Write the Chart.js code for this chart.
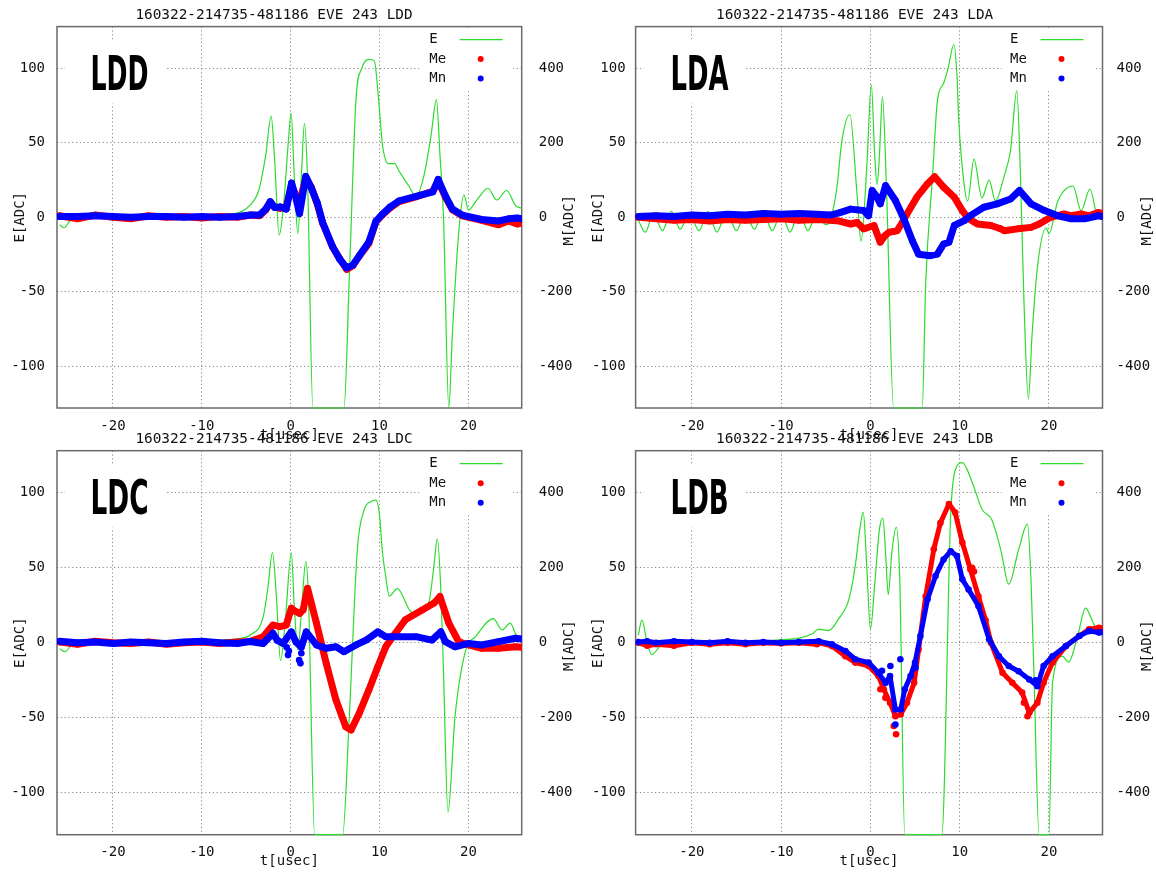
<!DOCTYPE html>
<html>
<head>
<meta charset="utf-8">
<title>EVE 243</title>
<script src="https://cdn.jsdelivr.net/npm/chart.js@4.4.1/dist/chart.umd.min.js"></script>
<style>
  html, body { margin: 0; padding: 0; background: #fff; }
  #page { position: relative; width: 1156px; height: 873px; overflow: hidden; }
  canvas { position: absolute; }
</style>
</head>
<body>
<div id="page">
  <canvas id="chart-ldd" width="578" height="444" style="left:0;top:0"></canvas>
  <canvas id="chart-lda" width="578" height="444" style="left:578px;top:0"></canvas>
  <canvas id="chart-ldc" width="578" height="450" style="left:0;top:423px"></canvas>
  <canvas id="chart-ldb" width="578" height="450" style="left:578px;top:423px"></canvas>
</div>
<script>
const EVENT = "160322-214735-481186 EVE 243";
const X_TICKS = [-20, -10, 0, 10, 20];
const E_TICKS = [-100, -50, 0, 50, 100];
const M_TICKS = [-400, -200, 0, 200, 400];

// --- LDD ---  [t usec, value]
const LDD_E = [[-26,-5],[-25.5,-7],[-24.8,-2],[-24,0],[-20,1],[-15,0],[-10,1],[-7,2],[-5.5,4],[-4.6,8],[-3.6,18],[-2.8,42],[-2.2,68],[-1.8,38],[-1.3,-12],[-0.8,8],[-0.3,48],[0.05,70],[0.4,28],[0.8,-11],[1.2,28],[1.55,63],[1.9,25],[2.5,-128],[6.0,-128],[6.6,-40],[7.35,79],[8.0,100],[8.8,106],[9.4,105],[9.9,79],[10.3,50],[11.0,36],[11.7,36],[12.2,31],[13.3,21],[14.1,14],[15.0,28],[15.8,55],[16.4,79],[16.8,42],[17.2,0],[17.8,-128],[18.2,-78],[18.9,-11],[19.5,15],[20.0,5],[21.0,12],[22.2,19.5],[23.2,11.6],[24.3,18],[25.3,8],[26,6]];
const LDD_ME = [[-26,4],[-24,-4],[-22,6],[-20,0],[-18,-4],[-16,4],[-14,0],[-12,2],[-10,-2],[-8,2],[-6,0],[-4.5,6],[-3.5,4],[-2.8,20],[-2.3,40],[-1.8,28],[-1.2,24],[-0.5,28],[0.1,85],[0.5,62],[1.0,40],[1.7,105],[2.3,82],[3.0,35],[3.6,-16],[4.7,-79],[5.5,-110],[6.3,-140],[7.0,-130],[7.7,-105],[8.8,-70],[9.6,-12],[10.3,6],[11.2,25],[12.2,42],[14.1,55],[16.0,70],[16.6,96],[17.4,55],[18.2,20],[19.3,4],[21.5,-8],[23.4,-20],[24.5,-10],[25.5,-18],[26,-15]];
const LDD_MN = [[-26,2],[-24,2],[-22,4],[-20,2],[-18,0],[-16,2],[-14,2],[-12,0],[-10,2],[-8,0],[-6,2],[-4.5,6],[-3.5,6],[-2.8,22],[-2.3,42],[-1.8,26],[-1.2,28],[-0.5,22],[0.1,92],[0.5,60],[1.0,10],[1.7,110],[2.3,80],[3.0,38],[3.6,-14],[4.7,-78],[5.5,-112],[6.3,-136],[7.0,-128],[7.7,-104],[8.8,-66],[9.6,-10],[10.3,8],[11.2,28],[12.2,44],[14.1,56],[16.0,68],[16.6,102],[17.4,58],[18.2,22],[19.3,6],[21.5,-6],[23.4,-10],[24.5,-4],[25.5,-2],[26,-4]];

// --- LDA ---
const LDA_E = [[-26,-2],[-25.2,-10],[-24.3,3],[-23.3,-9],[-22.3,4],[-21.3,-8],[-20.3,3],[-19.2,-9],[-18.2,4],[-17.2,-10],[-16.1,4],[-15,-9],[-14,3],[-13,-8],[-12,4],[-11,-9],[-10,3],[-9,-10],[-8,4],[-7,-9],[-6,3],[-5,-5],[-4.5,-2],[-3.75,20],[-3.2,51],[-2.3,69],[-1.5,16],[-1.05,-16],[-0.4,34],[0.1,89],[0.5,40],[0.75,22],[1.0,40],[1.35,81],[1.8,20],[2.6,-128],[5.8,-128],[6.2,-44],[7.0,31],[7.5,78],[8.2,90],[8.7,100],[9.35,116],[9.7,95],[9.9,65],[10.5,22],[10.9,11],[11.6,39],[12.5,13],[13.3,25],[14.0,11],[15.0,28],[15.7,45],[16.4,85],[16.8,30],[17.2,-56],[17.7,-122],[18.1,-80],[18.7,-34],[19.7,-7],[20.0,-11],[21.0,11],[22.7,21],[23.6,4.5],[24.6,19],[25.5,0],[26,2]];
const LDA_ME = [[-26,0],[-24,-4],[-22,-8],[-20,-6],[-18,-10],[-16,-6],[-14,-8],[-12,-6],[-10,-4],[-8,-8],[-6,-6],[-4.5,-8],[-3.5,-10],[-2.2,-18],[-1.5,-14],[-0.75,-31],[0.4,-22],[1.1,-67],[1.6,-50],[2.1,-40],[3.0,-36],[3.6,-13],[4.1,9],[5.2,54],[6.4,90],[7.2,109],[8.2,81],[9.4,54],[10.3,18],[11.0,-4],[12.0,-18],[13.5,-22],[14.5,-30],[15.0,-36],[16.5,-31],[18.0,-27],[18.9,-18],[20.2,0],[21.7,9],[22.5,4],[23.6,9],[24.5,4],[25.5,13],[26,10]];
const LDA_MN = [[-26,2],[-24,4],[-22,2],[-20,6],[-18,4],[-16,8],[-14,6],[-12,10],[-10,8],[-8,10],[-6,8],[-4.5,6],[-3.5,12],[-2.2,22],[-1.5,20],[-0.75,18],[-0.2,4],[0.2,72],[0.75,54],[1.1,36],[1.7,85],[2.8,45],[3.75,-4],[4.7,-63],[5.4,-99],[6.7,-103],[7.5,-99],[8.2,-72],[8.8,-67],[9.4,-22],[10.5,-9],[11.2,4.5],[12.7,27],[14.2,36],[15.7,49],[16.7,72],[18.0,36],[19.5,18],[21.0,4],[22.5,-4],[24.0,-4],[25.5,4],[26,2]];

// --- LDC ---
const LDC_E = [[-26,-4],[-25.4,-6],[-24.6,-1],[-24,0],[-20,1],[-15,0],[-10,1],[-7,2],[-5.5,3],[-4.6,5],[-3.1,17],[-2.6,35],[-2.05,60],[-1.6,30],[-1.15,-12],[-0.6,15],[0.07,60],[0.4,25],[0.8,-5],[1.2,20],[1.7,54],[2.0,30],[2.7,-128],[5.85,-128],[6.6,-49],[7.5,62],[8.3,89],[9.0,94],[9.6,95],[10.0,85],[10.3,62],[10.7,44],[11.1,31],[12.0,36],[13.7,20],[15.0,23],[15.6,28],[16.1,50],[16.5,69],[16.9,35],[17.2,-20],[17.7,-113],[18.5,-49],[19.7,-5],[20.8,4],[22.8,16],[23.8,8.5],[24.7,13],[25.4,5],[26,3]];
const LDC_ME = [[-26,2],[-24,-4],[-22,4],[-20,0],[-18,-2],[-16,2],[-14,-4],[-12,0],[-10,2],[-8,-2],[-6,2],[-4.6,3],[-3.1,16],[-2.0,47],[-1.2,43],[-0.5,47],[0.07,92],[0.5,84],[1.0,78],[1.4,87],[1.9,145],[2.9,52],[4.0,-55],[5.1,-153],[6.2,-224],[6.8,-233],[7.7,-189],[8.8,-126],[9.8,-64],[10.7,-11],[11.5,16],[12.9,61],[14.8,87],[16.1,105],[16.8,123],[17.8,52],[18.9,3],[20.0,-6],[21.5,-15],[23.4,-15],[25.3,-11],[26,-12]];
const LDC_MN = [[-26,4],[-24,0],[-22,2],[-20,-2],[-18,2],[-16,0],[-14,-2],[-12,2],[-10,4],[-8,0],[-6,-2],[-4.6,3],[-3.1,-2],[-2.0,25],[-1.5,6],[-0.86,-2],[0.07,29],[0.6,2],[1.2,-12],[1.75,29],[2.9,-6],[4.0,-15],[5.1,-11],[6.0,-24],[7.35,-6],[8.5,7],[9.8,29],[10.7,16],[12.2,16],[14.1,16],[15.9,7],[16.9,29],[17.4,3],[18.5,-11],[20.0,-2],[21.5,-6],[23.4,3],[25.3,12],[26,10]];
const LDC_MN_STRAY = [[-0.45,-12],[-0.3,-33],[-0.2,-22],[0.95,-46],[1.1,-55],[1.2,-28]];

// --- LDB ---
const LDB_E = [[-26,5],[-25.6,15],[-25.0,0],[-24.5,-8],[-23.5,-2],[-22,0],[-18,1],[-14,0],[-10,2],[-8,3],[-6.5,6],[-5.8,9],[-4.7,8],[-3.6,15.5],[-2.4,29],[-1.7,51],[-1.2,75],[-0.8,87],[-0.4,50],[0,9],[0.5,40],[1.0,75],[1.4,83],[1.7,60],[2.0,32],[2.4,60],[2.9,77],[3.3,40],[3.85,-128],[8.0,-128],[9.0,86],[9.5,115],[10.3,120],[11.4,107],[12.5,89],[13.6,82],[14.6,62],[15.5,39],[16.6,62],[17.6,79],[18.0,40],[18.3,-16],[18.9,-128],[20.0,-128],[20.4,-27],[21.5,-9],[22.2,-13],[23.2,4],[24.1,23],[25.2,11],[26,10]];
const LDB_ME = [[-26,0],[-25,-8],[-24,-4],[-22,-8],[-20,0],[-18,-4],[-16,0],[-14,-4],[-12,0],[-10,-2],[-8,0],[-6,-4],[-5.8,0],[-4.3,-9],[-2.8,-36],[-1.7,-53],[-0.2,-62],[0.9,-89],[1.5,-124],[2.2,-160],[2.8,-196],[3.4,-191],[4.1,-160],[4.9,-107],[5.4,-18],[6.2,124],[7.1,249],[7.85,320],[8.8,370],[9.5,347],[10.3,267],[11.2,196],[12.1,124],[12.9,60],[13.5,0],[14.8,-80],[15.9,-107],[17.0,-133],[17.8,-187],[18.7,-160],[19.4,-107],[20.4,-53],[21.9,-9],[23.4,18],[24.5,36],[25.6,40],[26,38]];
const LDB_MN = [[-26,2],[-25,4],[-24,0],[-22,4],[-20,2],[-18,0],[-16,4],[-14,0],[-12,2],[-10,0],[-8,2],[-5.8,4],[-4.3,-4],[-2.8,-22],[-1.7,-44],[-0.2,-53],[0.9,-80],[1.7,-107],[2.2,-89],[2.8,-178],[3.4,-178],[3.85,-124],[4.5,-89],[5.0,-53],[5.6,18],[6.4,116],[7.3,178],[8.2,222],[9.0,244],[9.7,231],[10.3,169],[11.0,142],[12.1,98],[13.3,9],[14.4,-36],[15.5,-62],[16.6,-76],[17.8,-98],[18.7,-116],[19.4,-62],[20.4,-36],[21.9,-9],[23.4,18],[24.5,31],[25.6,27],[26,28]];
const LDB_ME_STRAY = [[1.12,-124],[1.68,-147],[2.06,-98],[2.62,-222],[2.88,-244],[11.4,200],[11.6,190],[17.2,-160],[17.6,-196]];
const LDB_MN_STRAY = [[1.3,-75],[2.24,-62],[2.8,-218],[3.36,-44],[5.05,-67],[18.5,-100]];

const PANELS = [
  { id: "chart-ldd", name: "LDD", e: LDD_E, me: LDD_ME, mn: LDD_MN, meX: [], mnX: [], side: "left", row: "top", band: 7 },
  { id: "chart-lda", name: "LDA", e: LDA_E, me: LDA_ME, mn: LDA_MN, meX: [], mnX: [], side: "right", row: "top", band: 7 },
  { id: "chart-ldc", name: "LDC", e: LDC_E, me: LDC_ME, mn: LDC_MN, meX: [], mnX: LDC_MN_STRAY, side: "left", row: "bottom", band: 7 },
  { id: "chart-ldb", name: "LDB", e: LDB_E, me: LDB_ME, mn: LDB_MN, meX: LDB_ME_STRAY, mnX: LDB_MN_STRAY, side: "right", row: "bottom", band: 5 }
];

// geometry, per column / row of the 2x2 sheet
const SIDE = {
  left:  { yw: 57,   y2w: 56.3, yPad: 12, y2Pad: 17, labelX: 33.5, titleX: 217 },
  right: { yw: 57.6, y2w: 53.5, yPad: 10, y2Pad: 14, labelX: 35,   titleX: 219 }
};
const ROW = {
  top:    { top: 26.6, titleY: 15, xh: 36,   tickPad: 9.6, xtPad: 0.6 },
  bottom: { top: 27.7, titleY: 16, xh: 38.3, tickPad: 9.2, xtPad: 2.9 }
};

const INK = "#111";
const GREEN = "#2bdc2b";
const RED = "#ff0000";
const BLUE = "#0000ff";
const MONO = "\"DejaVu Sans Mono\", \"Liberation Mono\", monospace";
const FONT = { family: MONO, size: 14, weight: "normal" };

const pts = arr => arr.map(([x, y]) => ({ x, y }));
const fixTicks = list => s => { s.ticks = list.map(v => ({ value: v })); };

// --- frame, labels and key (gnuplot look) ---
const decor = {
  id: "decor",
  beforeDatasetsDraw(chart, args, o) {
    const { ctx, chartArea: a } = chart;
    ctx.save();
    ctx.fillStyle = "#fff";
    ctx.fillRect(a.left + 8, a.top + 46 - 31, 101, 62);
    ctx.fillRect(a.right - 101, a.top + 3, 92.5, 60);
    ctx.strokeStyle = "#6a6a6a";
    ctx.lineWidth = 1.5;
    ctx.strokeRect(a.left, a.top, a.right - a.left, a.bottom - a.top);
    ctx.restore();
  },
  afterDatasetsDraw(chart, args, o) {
    const { ctx, chartArea: a } = chart;
    ctx.save();

    // plot title (gnuplot puts it a bit left of centre)
    ctx.font = `14.4px ${MONO}`;
    ctx.fillStyle = INK;
    ctx.textAlign = "center";
    ctx.textBaseline = "middle";
    ctx.fillText(o.title, a.left + o.titleX, o.titleY);

    // big detector name
    ctx.font = "bold 48px \"DejaVu Sans Condensed\", \"DejaVu Sans\", sans-serif";
    ctx.fillStyle = "#000";
    ctx.textAlign = "left";
    ctx.textBaseline = "alphabetic";
    const w = ctx.measureText(o.name).width;
    ctx.save();
    ctx.translate(a.left + o.labelX, a.top + 46 + 17.5);
    ctx.scale(58 / w, 1);
    ctx.fillText(o.name, 0, 0);
    ctx.restore();

    // key
    ctx.font = `14px ${MONO}`;
    ctx.fillStyle = INK;
    ctx.textBaseline = "middle";
    const rows = [13, 32.5, 52];
    ["E", "Me", "Mn"].forEach((t, i) => ctx.fillText(t, a.right - 92.5, a.top + rows[i]));
    ctx.strokeStyle = GREEN;
    ctx.lineWidth = 1.2;
    ctx.beginPath();
    ctx.moveTo(a.right - 62, a.top + rows[0]);
    ctx.lineTo(a.right - 19, a.top + rows[0]);
    ctx.stroke();
    [[RED, rows[1]], [BLUE, rows[2]]].forEach(([c, y]) => {
      ctx.fillStyle = c;
      ctx.beginPath();
      ctx.arc(a.right - 41, a.top + y, 3, 0, Math.PI * 2);
      ctx.fill();
    });

    // right axis title, reads bottom to top like the left one
    ctx.fillStyle = INK;
    ctx.textAlign = "center";
    ctx.translate(chart.width - 9, (a.top + a.bottom) / 2 + 3);
    ctx.rotate(-Math.PI / 2);
    ctx.fillText("M[ADC]", 0, 0);
    ctx.restore();
  }
};

function makePanel(p) {
  const side = SIDE[p.side];
  const row = ROW[p.row];
  const band = (data, color, order) => ({
    data: pts(data), yAxisID: "y2", showLine: true,
    borderColor: color, backgroundColor: color, borderWidth: p.band,
    borderJoinStyle: "round", borderCapStyle: "round",
    pointRadius: 3.3, pointBorderWidth: 0, order
  });
  const stray = (data, color, order) => ({
    data: pts(data), yAxisID: "y2", showLine: false,
    backgroundColor: color, borderWidth: 0, pointRadius: 3.3, order
  });

  new Chart(document.getElementById(p.id), {
    type: "scatter",
    data: {
      datasets: [
        { data: pts(p.e), yAxisID: "y", showLine: true, borderColor: GREEN, borderWidth: 1.2,
          pointRadius: 0, cubicInterpolationMode: "monotone", clip: false, order: 5 },
        band(p.me, RED, 4),
        stray(p.meX, RED, 3),
        band(p.mn, BLUE, 2),
        stray(p.mnX, BLUE, 1)
      ]
    },
    options: {
      responsive: false,
      animation: false,
      events: [],
      layout: { padding: { top: row.top, left: 0, right: 0, bottom: 0 } },
      scales: {
        x: {
          type: "linear", min: -26.3, max: 26,
          afterBuildTicks: fixTicks(X_TICKS),
          afterFit: s => { s.height = row.xh; },
          grid: { color: "#8a8a8a", lineWidth: 1, drawTicks: false },
          border: { display: false, dash: [1.2, 2.6] },
          ticks: { color: INK, font: FONT, padding: row.tickPad, maxRotation: 0 },
          title: { display: true, text: "t[usec]", color: INK, font: FONT, padding: { top: 0, bottom: row.xtPad } }
        },
        y: {
          position: "left", min: -128, max: 128,
          afterBuildTicks: fixTicks(E_TICKS),
          afterFit: s => { s.width = side.yw; },
          grid: { color: "#8a8a8a", lineWidth: 1, drawTicks: false },
          border: { display: false, dash: [1.2, 2.6] },
          ticks: { color: INK, font: FONT, padding: side.yPad },
          title: { display: true, text: "E[ADC]", color: INK, font: FONT, padding: { top: 11.8, bottom: 0 } }
        },
        y2: {
          position: "right", min: -512, max: 512,
          afterBuildTicks: fixTicks(M_TICKS),
          afterFit: s => { s.width = side.y2w; },
          grid: { display: false, drawTicks: false },
          border: { display: false },
          ticks: { color: INK, font: FONT, padding: side.y2Pad }
        }
      },
      plugins: {
        legend: { display: false },
        tooltip: { enabled: false },
        title: { display: false },
        decor: { name: p.name, title: `${EVENT} ${p.name}`, labelX: side.labelX, titleX: side.titleX, titleY: row.titleY }
      }
    },
    plugins: [decor]
  });
}

PANELS.forEach(makePanel);
</script>
</body>
</html>
